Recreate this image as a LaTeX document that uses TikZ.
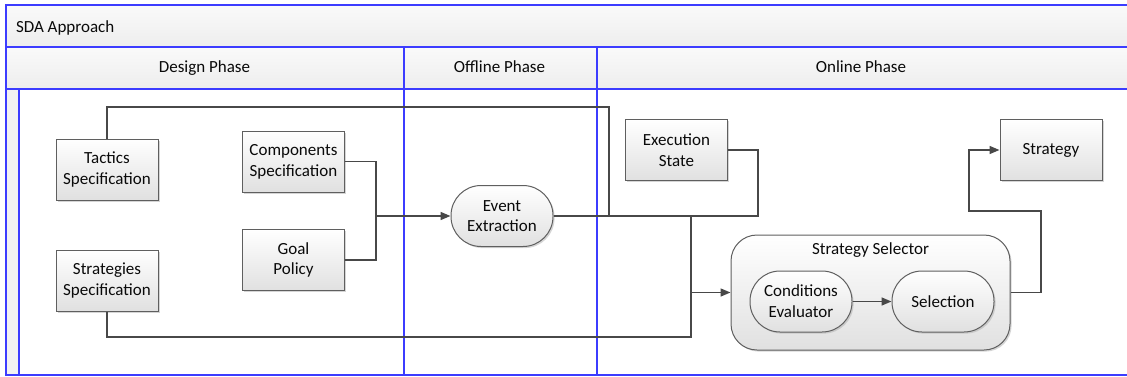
\documentclass[tikz,border=0pt]{standalone}
\usepackage{fontspec}
\setmainfont{Carlito}
\usetikzlibrary{arrows.meta,shadows}
\definecolor{lanecol}{RGB}{60,60,255}
\definecolor{wirecol}{RGB}{72,72,72}
\definecolor{edgecol}{RGB}{95,95,95}
\definecolor{ink}{RGB}{10,10,10}
\definecolor{bandcol}{RGB}{242,242,242}
\begin{document}
\begin{tikzpicture}[x=1pt,y=-1pt,
  every node/.style={font=\fontsize{17}{20.7}\selectfont, text=ink},
  box/.style={draw=edgecol, line width=1pt, top color=white, bottom color=black!12,
    minimum width=102pt, minimum height=61pt, inner sep=0pt, align=center,
    drop shadow={shadow xshift=1.6pt, shadow yshift=-1.6pt, fill=black!30, opacity=0.55}},
  pill/.style={box, rounded corners=30pt},
  wire/.style={draw=wirecol, line width=1.5pt},
  flow/.style={wire, -{Triangle[length=10pt,width=8pt]}},
  laneline/.style={draw=lanecol, line width=2pt},
  headtext/.style={anchor=base},
]
\useasboundingbox (0,0) rectangle (1127,376);

% swimlane pool: title band, phase headers, left rail
\fill[top color=white!98!black, bottom color=black!7] (6,5) rectangle (1132,47);
\fill[top color=white!98!black, bottom color=black!7] (6,47) rectangle (1132,89);
\fill[bandcol] (6,89) rectangle (19,375);
\draw[laneline] (1132,5) -- (6,5) -- (6,375) -- (1132,375);
\draw[laneline] (6,47) -- (1132,47);
\draw[laneline] (6,89) -- (1132,89);
\draw[laneline] (19,89) -- (19,375);
\draw[laneline] (403.5,47) -- (403.5,375);
\draw[laneline] (596.5,47) -- (596.5,375);

\node[anchor=base west] (pool) at (12.5,32.3) {SDA Approach};
\node[headtext] (design) at (204.5,72.7) {Design Phase};
\node[headtext] (offline) at (499.5,72.7) {Offline Phase};
\node[headtext] (online) at (861,72.7) {Online Phase};

% process elements
\node[box] (tac) at (107,169.5) {Tactics\\Specification};
\node[box] (comp) at (293.5,161.5) {Components\\Specification};
\node[box] (goal) at (293.5,260) {Goal\\Policy};
\node[box] (strs) at (107,280.5) {Strategies\\Specification};
\node[pill] (ev) at (502,216) {Event\\Extraction};
\node[box] (exe) at (676.5,150) {Execution\\State};
\node[box] (strat) at (1051,150) {Strategy};
\node[box, rounded corners=26pt, minimum width=279pt, minimum height=115pt] (sel) at (870.5,292.5) {};
\node[anchor=base] (selname) at (870.5,254) {Strategy Selector};
\node[pill] (cond) at (801,301.5) {Conditions\\Evaluator};
\node[pill] (pick) at (943,301.5) {Selection};

% routing points
\coordinate (merge) at (691,216);
\coordinate (feed) at (691,292.5);
\coordinate (loop) at (609,107);
\coordinate (exeDrop) at (758,216);
\coordinate (stratBase) at (691,337);
\coordinate (specJoin) at (376,216);
\coordinate (outRise) at (1041,211);
\coordinate (outTurn) at (969,150);

% connectors
\draw[wire] (tac.north) |- (loop) |- (merge);
\draw[wire] (ev.east) -- (merge);
\draw[wire] (exe.east) -| (exeDrop) -- (merge);
\draw[wire] (strs.south) |- (stratBase) -- (merge);
\draw[flow] (feed) -- (sel.west);
\draw[wire] (comp.east) -| (specJoin);
\draw[wire] (goal.east) -| (specJoin);
\draw[flow] (specJoin) -- (ev.west);
\draw[flow] (sel.east) -| (outRise) -| (outTurn) -- (strat.west);
\draw[flow] (cond) -- (pick);
\end{tikzpicture}
\end{document}
